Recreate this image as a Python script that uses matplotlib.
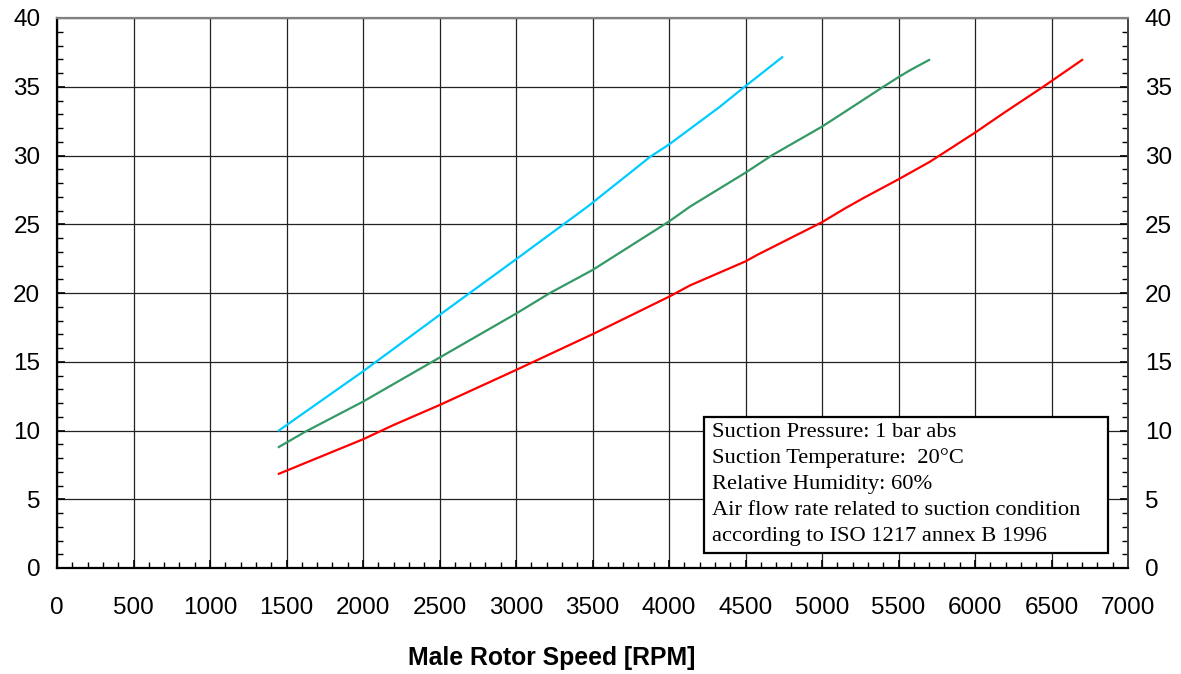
import matplotlib
matplotlib.use("Agg")
import matplotlib.pyplot as plt
from matplotlib.ticker import MultipleLocator
from matplotlib.patches import Rectangle

# Data
cyan_x = [1450, 2000, 2500, 3000, 3470, 3876, 4000, 4333, 4490, 4740]
cyan_y = [10.0, 14.3, 18.4, 22.45, 26.3, 29.9, 30.8, 33.55, 34.96, 37.15]

green_x = [1450, 1621, 2000, 2500, 3000, 3222, 3500, 4000, 4137, 4500, 4671, 5000,
           5139, 5401, 5500, 5575, 5700]
green_y = [8.8, 9.9, 12.1, 15.3, 18.5, 20.0, 21.67, 25.2, 26.28, 28.75, 30.0, 32.1,
           33.1, 35.0, 35.7, 36.2, 36.95]

red_x = [1450, 2000, 2200, 2500, 3000, 3500, 4000, 4137, 4500, 4573, 5000, 5150,
         5270, 5500, 5706, 6000, 6185, 6446, 6700]
red_y = [6.85, 9.36, 10.4, 11.85, 14.4, 17.0, 19.73, 20.55, 22.3, 22.75, 25.15, 26.15,
         26.9, 28.27, 29.55, 31.66, 33.07, 35.0, 36.95]

x_ticks = list(range(0, 7001, 500))
y_ticks = list(range(0, 41, 5))
x_label = "Male Rotor Speed [RPM]"
note_lines = [
    "Suction Pressure: 1 bar abs",
    "Suction Temperature:  20\u00b0C",
    "Relative Humidity: 60%",
    "Air flow rate related to suction condition",
    "according to ISO 1217 annex B 1996",
]

plt.rcParams['font.family'] = ['Liberation Sans', 'DejaVu Sans']

W, H = 1181, 674
fig = plt.figure(figsize=(W / 100, H / 100), dpi=100)
L, R, T, B = 57, 1128, 18, 568
ax = fig.add_axes([L / W, 1 - B / H, (R - L) / W, (B - T) / H])

ax.set_xlim(0, 7000)
ax.set_ylim(0, 40)
ax.set_xticks(x_ticks)
ax.set_yticks(y_ticks)
ax.xaxis.set_minor_locator(MultipleLocator(100))
ax.yaxis.set_minor_locator(MultipleLocator(1))

ax.grid(True, which='major', color='#222222', linewidth=0.9)
ax.set_axisbelow(True)

ax.plot(cyan_x, cyan_y, color='#00CCFF', lw=1.6, zorder=3)
ax.plot(green_x, green_y, color='#339966', lw=1.6, zorder=3)
ax.plot(red_x, red_y, color='#FF0000', lw=1.6, zorder=3)

ax.tick_params(axis='x', which='both', direction='in', top=False, labelsize=17.5, pad=21)
ax.tick_params(axis='x', which='major', length=6, width=1.2)
ax.tick_params(axis='x', which='minor', length=4, width=1)
ax.tick_params(axis='y', which='both', direction='in', left=True, right=True,
               labelleft=True, labelright=True, labelsize=17.5)
ax.tick_params(axis='y', which='major', length=6, width=1.2)
ax.tick_params(axis='y', which='minor', length=4, width=1)
for t in ax.yaxis.get_major_ticks():
    t.set_pad(12)
    t.label2.set_x(1.0)
for t in ax.yaxis.get_major_ticks():
    t.set_pad(12)
ax.yaxis.set_tick_params(which='major', pad=12)

for s in ['left', 'bottom']:
    ax.spines[s].set_color('black')
    ax.spines[s].set_linewidth(1.6)
ax.spines['top'].set_color('#808080')
ax.spines['top'].set_linewidth(1.6)
ax.spines['right'].set_color('#404040')
ax.spines['right'].set_linewidth(1.4)

# Note box
bx0, bx1, by0, by1 = 704, 1108, 553, 417
ax.add_patch(Rectangle(((bx0 - L) / (R - L), (B - by0) / (B - T)),
                       (bx1 - bx0) / (R - L), (by0 - by1) / (B - T),
                       transform=ax.transAxes, facecolor='white', edgecolor='black',
                       linewidth=1.6, zorder=5))
baselines = [437, 463, 489, 515, 541]
for line, yb in zip(note_lines, baselines):
    fig.text(712.5 / W, 1 - yb / H, line, ha='left', va='baseline',
             fontsize=16.2, family=['Liberation Serif', 'DejaVu Serif'], zorder=6)

fig.text(551.5 / W, 1 - 658 / H, x_label, ha='center', va='center',
         fontsize=17.8, fontweight='bold')

fig.savefig('out.png', dpi=100)
